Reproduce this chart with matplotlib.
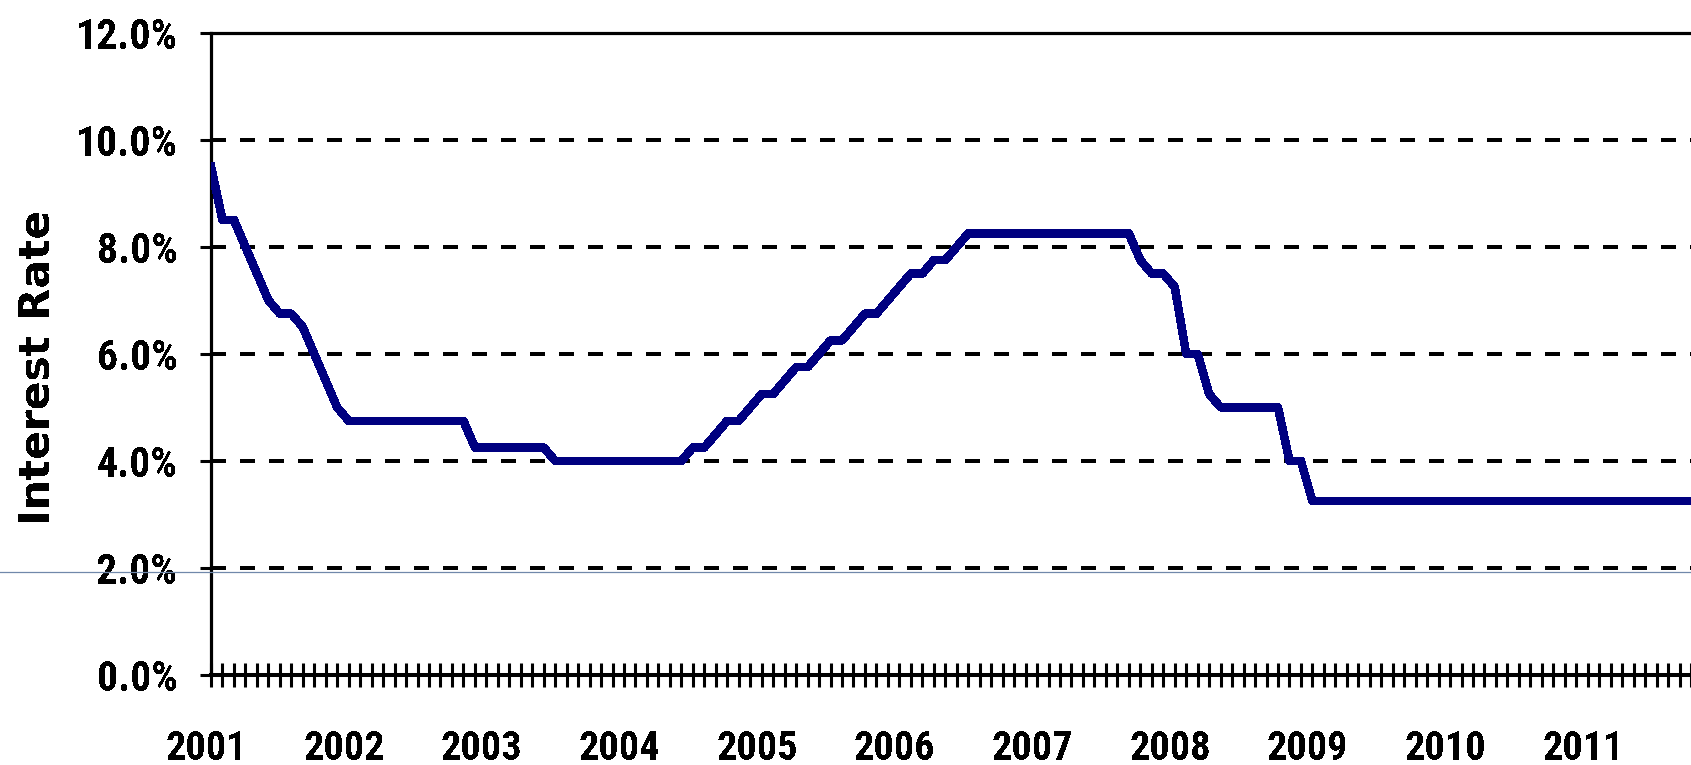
import numpy as np
import matplotlib
matplotlib.use("Agg")
import matplotlib.pyplot as plt
import matplotlib.transforms as mtransforms
from matplotlib import font_manager
from matplotlib.lines import Line2D

# prime rate at the start of each month, Jan 2001 onwards (%)
rates_2001 = [9.5, 8.5, 8.5, 8.0, 7.5, 7.0, 6.75, 6.75, 6.5, 6.0, 5.5, 5.0]
rates_2002 = [4.75, 4.75, 4.75, 4.75, 4.75, 4.75, 4.75, 4.75, 4.75, 4.75, 4.75, 4.25]
rates_2003 = [4.25, 4.25, 4.25, 4.25, 4.25, 4.25, 4.0, 4.0, 4.0, 4.0, 4.0, 4.0]
rates_2004 = [4.0, 4.0, 4.0, 4.0, 4.0, 4.0, 4.25, 4.25, 4.5, 4.75, 4.75, 5.0]
rates_2005 = [5.25, 5.25, 5.5, 5.75, 5.75, 6.0, 6.25, 6.25, 6.5, 6.75, 6.75, 7.0]
rates_2006 = [7.25, 7.5, 7.5, 7.75, 7.75, 8.0, 8.25, 8.25, 8.25, 8.25, 8.25, 8.25]
rates_2007 = [8.25, 8.25, 8.25, 8.25, 8.25, 8.25, 8.25, 8.25, 8.25, 7.75, 7.5, 7.5]
rates_2008 = [7.25, 6.0, 6.0, 5.25, 5.0, 5.0, 5.0, 5.0, 5.0, 5.0, 4.0, 4.0]
rates_2009 = [3.25] * 12
rates_2010 = [3.25] * 12
rates_2011 = [3.25] * 10

years = ["2001", "2002", "2003", "2004", "2005", "2006",
         "2007", "2008", "2009", "2010", "2011"]
ytick_vals = [0, 2, 4, 6, 8, 10, 12]
ytick_labels = ["0.0%", "2.0%", "4.0%", "6.0%", "8.0%", "10.0%", "12.0%"]

rates = np.array(rates_2001 + rates_2002 + rates_2003 + rates_2004 + rates_2005
                 + rates_2006 + rates_2007 + rates_2008 + rates_2009 + rates_2010
                 + rates_2011)
months = np.arange(len(rates))

# a narrow bold font for the tick labels, if one is installed
bold_names = {f.name for f in font_manager.fontManager.ttflist
              if str(f.weight) in ("700", "bold")}
tick_font, ysize, xsize = "Liberation Sans", 27, 26
for name, ys, xs in [("Liberation Sans Narrow", 31.5, 30.5),
                     ("Arial Narrow", 31.5, 30.5),
                     ("Roboto Condensed", 30, 29),
                     ("PT Sans Narrow", 31, 30)]:
    if name in bold_names:
        tick_font, ysize, xsize = name, ys, xs
        break

plt.rcParams["text.antialiased"] = False

W, H = 1691, 765
fig = plt.figure(figsize=(W / 100, H / 100), dpi=100)
ax = fig.add_axes([211 / W, (H - 675) / H, 1 - 211 / W, (675 - 32.7) / H])

ax.plot(months, rates, color="#000080", lw=5.4, zorder=3, antialiased=False)

ax.set_xlim(0, 1480 / 11.52)
ax.set_ylim(0, 12)

# dashed grid
ax.set_yticks(ytick_vals)
ax.set_yticklabels([])
ax.grid(axis="y", color="black", lw=2.9, linestyle=(0, (3.5, 3.5)), antialiased=False)
ax.set_axisbelow(True)

# monthly tick marks on the x axis
ax.set_xticks(np.arange(0, 130))
ax.set_xticklabels([])
ax.tick_params(axis="x", direction="inout", length=17, width=2.2, color="black")
ax.tick_params(axis="y", direction="out", length=8, width=2.2, color="black")

ax.spines["right"].set_visible(False)
for s in ["left", "top", "bottom"]:
    ax.spines[s].set_linewidth(2.3)
ax.spines["bottom"].set_linewidth(2.9)

# y tick labels
ytrans = mtransforms.blended_transform_factory(fig.transFigure, ax.transData)
shift = mtransforms.ScaledTranslation(0, -0.16, fig.dpi_scale_trans)
for v, lab in zip(ytick_vals, ytick_labels):
    ax.text(178 / W, v, lab, transform=ytrans + shift, ha="right", va="baseline",
            fontsize=ysize, fontweight="bold", family=tick_font, clip_on=False)

# year labels
xtrans = mtransforms.blended_transform_factory(ax.transData, fig.transFigure)
for i, yr in enumerate(years):
    ax.text(12 * i - 0.4, 5 / H, yr, transform=xtrans, ha="center", va="baseline",
            fontsize=xsize, fontweight="bold", family=tick_font, clip_on=False)

fig.text(38 / W, 1 - 367 / H, "Interest Rate", rotation=90, ha="center", va="center",
         fontsize=30.5, fontweight="bold", family="DejaVu Sans")

# thin stray line across the picture
fig.add_artist(Line2D([0, 1], [1 - 571.7 / H] * 2, transform=fig.transFigure,
                      color="#7088aa", lw=0.9, zorder=5))

fig.savefig("out.png", dpi=100)
